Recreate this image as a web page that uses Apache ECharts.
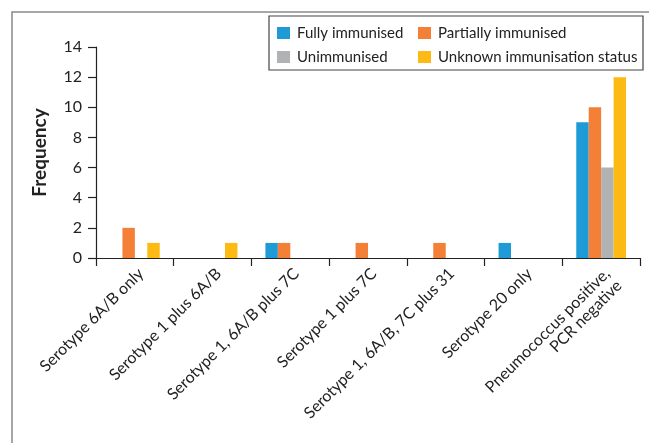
<!DOCTYPE html>
<html>
<head>
<meta charset="utf-8">
<script src="https://cdn.jsdelivr.net/npm/echarts@6/dist/echarts.min.js"></script>
<style>
html,body{margin:0;padding:0;background:#fff;}
#chart{width:649px;height:443px;}
</style>
</head>
<body>
<div id="chart"></div>
<script>
const categories = [
  'Serotype 6A/B only',
  'Serotype 1 plus 6A/B',
  'Serotype 1, 6A/B plus 7C',
  'Serotype 1 plus 7C',
  'Serotype 1, 6A/B, 7C plus 31',
  'Serotype 20 only',
  'Pneumococcus positive,\nPCR negative'
];
const fullyImmunised = [0, 0, 1, 0, 0, 1, 9];
const partiallyImmunised = [2, 0, 1, 1, 1, 0, 10];
const unimmunised = [0, 0, 0, 0, 0, 0, 6];
const unknownStatus = [1, 1, 0, 0, 0, 0, 12];
const yTicks = { min: 0, max: 14, interval: 2 };

const FONT = 'Lato';
const chart = echarts.init(document.getElementById('chart'), null, { renderer: 'canvas' });
const legendText = { fontFamily: FONT, fontSize: 15, color: '#222', lineHeight: 16, padding: [0, 0, 0, 2] };
chart.setOption({
  animation: false,
  backgroundColor: '#fff',
  textStyle: { fontFamily: FONT },
  graphic: [
    { type: 'polyline', shape: { points: [[12, 443], [12, 12], [649, 12]] },
      style: { stroke: '#8a8a8a', lineWidth: 1.5, fill: null }, z: 0 },
    { type: 'rect', shape: { x: 269, y: 16, width: 374, height: 54 },
      style: { stroke: '#444', lineWidth: 1.2, fill: '#fff' }, z: 0 }
  ],
  legend: [
    { data: ['Fully immunised', 'Unimmunised'], orient: 'vertical', left: 277, top: 25,
      itemWidth: 13, itemHeight: 12, itemGap: 8, icon: 'rect', textStyle: legendText, padding: 0 },
    { data: ['Partially immunised', 'Unknown immunisation status'], orient: 'vertical', left: 418, top: 25,
      itemWidth: 13, itemHeight: 12, itemGap: 8, icon: 'rect', textStyle: legendText, padding: 0 }
  ],
  grid: { left: 96, right: 9, top: 47, bottom: 185, containLabel: false },
  xAxis: {
    type: 'category',
    data: categories,
    axisLine: { lineStyle: { color: '#222', width: 1.2 } },
    axisTick: { show: true, length: 8, lineStyle: { color: '#222', width: 1.2 } },
    axisLabel: { interval: 0, rotate: 45, fontSize: 16, color: '#222', fontFamily: FONT, margin: 7,
      lineHeight: 17, verticalAlign: 'top' }
  },
  yAxis: {
    type: 'value',
    min: yTicks.min, max: yTicks.max, interval: yTicks.interval,
    name: 'Frequency',
    nameLocation: 'middle',
    nameGap: 47,
    nameTextStyle: { fontFamily: FONT, fontSize: 19, fontWeight: 'bold', color: '#222' },
    axisLine: { show: true, lineStyle: { color: '#222', width: 1.2 } },
    axisTick: { show: true, length: 8, lineStyle: { color: '#222', width: 1.2 } },
    axisLabel: { fontSize: 16, color: '#222', fontFamily: FONT, margin: 14 },
    splitLine: { show: false }
  },
  series: [
    { name: 'Fully immunised', type: 'bar', data: fullyImmunised, itemStyle: { color: '#1e9ad6' }, barGap: '0%', barCategoryGap: '36%' },
    { name: 'Partially immunised', type: 'bar', data: partiallyImmunised, itemStyle: { color: '#f47f36' } },
    { name: 'Unimmunised', type: 'bar', data: unimmunised, itemStyle: { color: '#b1b2b4' } },
    { name: 'Unknown immunisation status', type: 'bar', data: unknownStatus, itemStyle: { color: '#fdb914' } }
  ]
});
</script>
</body>
</html>
